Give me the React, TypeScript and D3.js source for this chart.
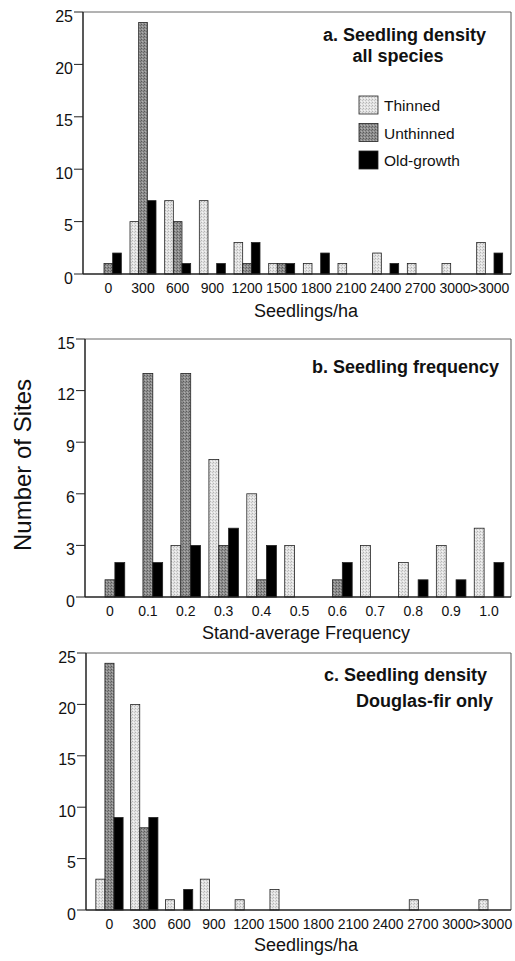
import React from "react";
import * as d3 from "d3";

const SERIES = ["Thinned", "Unthinned", "Old-growth"];
const DENSITY_CATS = ["0", "300", "600", "900", "1200", "1500", "1800", "2100", "2400", "2700", "3000", ">3000"];
const FREQ_CATS = ["0", "0.1", "0.2", "0.3", "0.4", "0.5", "0.6", "0.7", "0.8", "0.9", "1.0"];

// a. Seedling density, all species
const A_THINNED = [0, 5, 7, 7, 3, 1, 1, 1, 2, 1, 1, 3];
const A_UNTHINNED = [1, 24, 5, 0, 1, 1, 0, 0, 0, 0, 0, 0];
const A_OLDGROWTH = [2, 7, 1, 1, 3, 1, 2, 0, 1, 0, 0, 2];

// b. Seedling frequency
const B_THINNED = [0, 0, 3, 8, 6, 3, 0, 3, 2, 3, 4];
const B_UNTHINNED = [1, 13, 13, 3, 1, 0, 1, 0, 0, 0, 0];
const B_OLDGROWTH = [2, 2, 3, 4, 3, 0, 2, 0, 1, 1, 2];

// c. Seedling density, Douglas-fir only
const C_THINNED = [3, 20, 1, 3, 1, 2, 0, 0, 0, 1, 0, 1];
const C_UNTHINNED = [24, 8, 0, 0, 0, 0, 0, 0, 0, 0, 0, 0];
const C_OLDGROWTH = [9, 9, 2, 0, 0, 0, 0, 0, 0, 0, 0, 0];

const A_TICKS = [0, 5, 10, 15, 20, 25];
const B_TICKS = [0, 3, 6, 9, 12, 15];
const C_TICKS = [0, 5, 10, 15, 20, 25];

const FONT = "'Liberation Sans', Arial, Helvetica, sans-serif";
const FILLS: Record<string, string> = {
  Thinned: "url(#patThinned)",
  Unthinned: "url(#patUnthinned)",
  "Old-growth": "#000",
};

type PanelProps = {
  left: number; right: number; top: number; bottom: number;
  band: [number, number]; padInner: number; padOuter: number;
  yMax: number; ticks: number[]; cats: string[];
  series: number[][];
  titles: { text: string; x: number; y: number; anchor: string }[];
  xTitle: string; xTitleY: number;
  legend?: boolean;
};

function Panel(p: PanelProps) {
  const y = d3.scaleLinear().domain([0, p.yMax]).range([p.bottom, p.top]);
  const x = d3.scaleBand<string>().domain(p.cats).range(p.band).paddingInner(p.padInner).paddingOuter(p.padOuter);
  const xi = d3.scaleBand<string>().domain(SERIES).range([0, x.bandwidth()]);
  return (
    <g>
      {/* frame top/right */}
      <line x1={p.left} x2={p.right} y1={p.top} y2={p.top} stroke="#666" strokeWidth={1} />
      <line x1={p.right} x2={p.right} y1={p.top} y2={p.bottom} stroke="#555" strokeWidth={1} />
      {/* bars */}
      {p.cats.map((c, ci) =>
        SERIES.map((s, si) => {
          const v = p.series[si][ci];
          if (v <= 0) return null;
          return (
            <rect key={c + s} x={(x(c) as number) + (xi(s) as number)} width={xi.bandwidth()}
              y={y(v)} height={y(0) - y(v)} fill={FILLS[s]} stroke="#222" strokeWidth={0.8} />
          );
        })
      )}
      {/* axes */}
      <line x1={p.left} x2={p.left} y1={p.top} y2={p.bottom} stroke="#222" strokeWidth={1.5} />
      <line x1={p.left} x2={p.right} y1={p.bottom} y2={p.bottom} stroke="#222" strokeWidth={1.5} />
      {p.ticks.map((t) => (
        <g key={t}>
          <line x1={p.left - 9} x2={p.left} y1={y(t)} y2={y(t)} stroke="#222" strokeWidth={1} />
          <text x={p.left - 10} y={y(t) + 9.5} textAnchor="end" fontSize={16} fontFamily={FONT} fill="#111">{t}</text>
        </g>
      ))}
      {p.cats.map((c) => (
        <text key={c} x={(x(c) as number) + x.bandwidth() / 2} y={p.bottom + 19} textAnchor="middle"
          fontSize={14} fontFamily={FONT} fill="#111">{c}</text>
      ))}
      <text x={306} y={p.xTitleY} textAnchor="middle" fontSize={18} fontFamily={FONT} fill="#111">{p.xTitle}</text>
      {p.titles.map((t) => (
        <text key={t.text} x={t.x} y={t.y} textAnchor={t.anchor as any} fontSize={18} fontWeight="bold"
          fontFamily={FONT} fill="#111">{t.text}</text>
      ))}
      {p.legend &&
        SERIES.map((s, i) => (
          <g key={s}>
            <rect x={359} y={96 + i * 27.5} width={19} height={18} fill={FILLS[s]} stroke="#222" strokeWidth={0.8} />
            <text x={384} y={111 + i * 27.5} fontSize={15.5} fontFamily={FONT} fill="#111">{s}</text>
          </g>
        ))}
    </g>
  );
}

export default function App() {
  return (
    <svg width={515} height={961} style={{ position: "absolute", left: 0, top: 0, display: "block", background: "#fff" }}>
      <defs>
        <pattern id="patThinned" width={3} height={3} patternUnits="userSpaceOnUse">
          <rect width={3} height={3} fill="#e2e2e2" />
          <rect x={0} y={0} width={1} height={1} fill="#b4b4b4" />
          <rect x={2} y={1} width={1} height={1} fill="#c4c4c4" />
          <rect x={1} y={2} width={1} height={1} fill="#f4f4f4" />
        </pattern>
        <pattern id="patUnthinned" width={3} height={3} patternUnits="userSpaceOnUse">
          <rect width={3} height={3} fill="#8e8e8e" />
          <rect x={0} y={0} width={1} height={1} fill="#5a5a5a" />
          <rect x={2} y={1} width={1} height={1} fill="#6c6c6c" />
          <rect x={1} y={2} width={1} height={1} fill="#b0b0b0" />
        </pattern>
      </defs>
      <text transform="translate(31,465) rotate(-90)" textAnchor="middle" fontSize={24} fontFamily={FONT} fill="#111">
        Number of Sites
      </text>
      <Panel left={83} right={511} top={12} bottom={274} band={[91, 507]} padInner={0.25} padOuter={0.125}
        yMax={25} ticks={A_TICKS} cats={DENSITY_CATS} series={[A_THINNED, A_UNTHINNED, A_OLDGROWTH]}
        titles={[
          { text: "a. Seedling density", x: 486, y: 41, anchor: "end" },
          { text: "all species", x: 398, y: 62, anchor: "middle" },
        ]}
        xTitle="Seedlings/ha" xTitleY={317} legend />
      <Panel left={85} right={511} top={339} bottom={597} band={[91, 508]} padInner={0.22} padOuter={0.11}
        yMax={15} ticks={B_TICKS} cats={FREQ_CATS} series={[B_THINNED, B_UNTHINNED, B_OLDGROWTH]}
        titles={[{ text: "b. Seedling frequency", x: 499, y: 373, anchor: "end" }]}
        xTitle="Stand-average Frequency" xTitleY={639} />
      <Panel left={86} right={511} top={653} bottom={910} band={[92, 510]} padInner={0.217} padOuter={0.11}
        yMax={25} ticks={C_TICKS} cats={DENSITY_CATS} series={[C_THINNED, C_UNTHINNED, C_OLDGROWTH]}
        titles={[
          { text: "c. Seedling density", x: 487, y: 681, anchor: "end" },
          { text: "Douglas-fir only", x: 493, y: 707, anchor: "end" },
        ]}
        xTitle="Seedlings/ha" xTitleY={951} />
    </svg>
  );
}
